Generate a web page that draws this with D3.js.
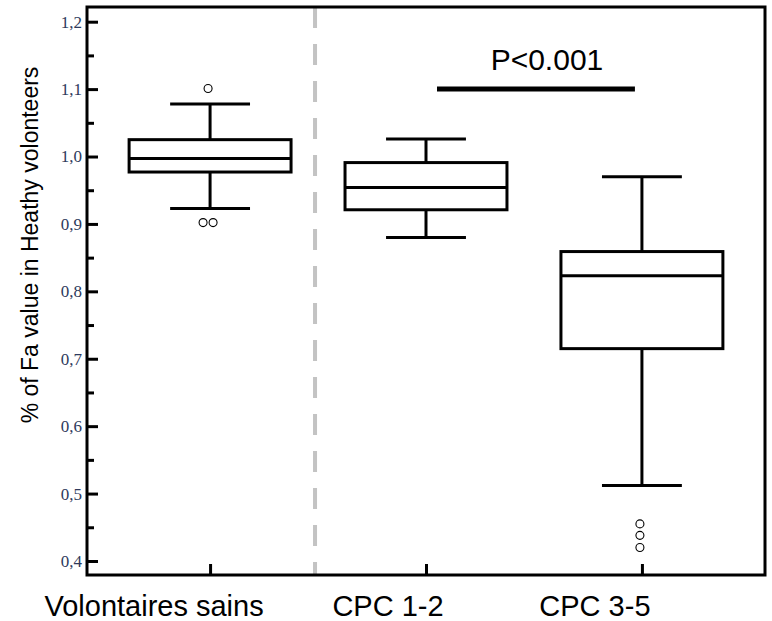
<!DOCTYPE html>
<html>
<head>
<meta charset="utf-8">
<script src="https://cdn.jsdelivr.net/npm/d3@7"></script>
<style>
  html, body { margin: 0; padding: 0; background: #fff; }
  svg { display: block; }
</style>
</head>
<body>
<svg id="chart" width="772" height="621"></svg>
<script>
// Groups and their box-plot statistics (fraction of the healthy-volunteer mean)
const categories  = ["Volontaires sains", "CPC 1-2", "CPC 3-5"];
const whiskerLow  = [0.923, 0.880, 0.512];
const q1          = [0.977, 0.921, 0.715];
const median      = [0.997, 0.954, 0.823];
const q3          = [1.025, 0.991, 0.859];
const whiskerHigh = [1.078, 1.026, 0.970];
const outliers    = [[1.101, 0.902, 0.902], [], [0.455, 0.438, 0.420]];

// Axis ticks
const majorTicks = [0.4, 0.5, 0.6, 0.7, 0.8, 0.9, 1.0, 1.1, 1.2];
const minorTicks = [0.45, 0.55, 0.65, 0.75, 0.85, 0.95, 1.05, 1.15];

// Significance annotation between the two CPC groups
const sigLabel = "P<0.001";
const sigValue = 1.1;

const yTitle = "% of Fa value in Heathy volonteers";

// ---- layout ----
const plot = { left: 87, right: 765, top: 7, bottom: 575 };
const svg = d3.select("#chart");

const x = d3.scalePoint()
  .domain(categories)
  .range([plot.left, plot.right])
  .padding(0.57);

const y = d3.scaleLinear()
  .domain([0.3792, 1.2218])
  .range([plot.bottom, plot.top]);

const step = x.step();
const boxHalf = step * 0.375;
const capHalf = step * 0.185;
const labelShift = [-56, -38, -47];

// Dashed separator between healthy volunteers and patients
svg.append("line")
  .attr("x1", (x(categories[0]) + x(categories[1])) / 2 - 3)
  .attr("x2", (x(categories[0]) + x(categories[1])) / 2 - 3)
  .attr("y1", plot.top)
  .attr("y2", plot.bottom)
  .attr("stroke", "#c3c3c3")
  .attr("stroke-width", 4)
  .attr("stroke-dasharray", "21,16");

// Y axis: major ticks with labels, pointing inward
const yAxis = svg.append("g")
  .attr("transform", `translate(${plot.left},0)`)
  .call(d3.axisLeft(y)
    .tickValues(majorTicks)
    .tickSizeInner(-11)
    .tickSizeOuter(0)
    .tickPadding(5)
    .tickFormat(d => d3.format(".1f")(d).replace(".", ",")));
yAxis.attr("font-family", "Liberation Serif").attr("font-size", 17);
yAxis.select(".domain").remove();
yAxis.selectAll(".tick line").attr("stroke", "#000").attr("stroke-width", 3);
yAxis.selectAll(".tick text")
  .attr("fill", "#2e3a5c")
  .attr("font-family", "Liberation Serif")
  .attr("font-size", 17);

// Y axis minor ticks
const yMinor = svg.append("g")
  .attr("transform", `translate(${plot.left},0)`)
  .call(d3.axisLeft(y)
    .tickValues(minorTicks)
    .tickSizeInner(-7)
    .tickSizeOuter(0)
    .tickFormat(""));
yMinor.select(".domain").remove();
yMinor.selectAll(".tick line").attr("stroke", "#000").attr("stroke-width", 3);

// X axis ticks pointing inward
const xAxis = svg.append("g")
  .attr("transform", `translate(0,${plot.bottom})`)
  .call(d3.axisBottom(x).tickSizeInner(-11).tickSizeOuter(0).tickFormat(""));
xAxis.select(".domain").remove();
xAxis.selectAll(".tick line").attr("stroke", "#000").attr("stroke-width", 3);

// Category labels
svg.append("g").selectAll("text")
  .data(categories)
  .join("text")
  .attr("x", (d, i) => x(d) + labelShift[i])
  .attr("y", 616)
  .attr("text-anchor", "middle")
  .style("font-family", "Arial, 'Liberation Sans', sans-serif")
  .style("font-size", "29px")
  .attr("fill", "#000")
  .text(d => d);

// Frame
svg.append("rect")
  .attr("x", plot.left)
  .attr("y", plot.top)
  .attr("width", plot.right - plot.left)
  .attr("height", plot.bottom - plot.top)
  .attr("fill", "none")
  .attr("stroke", "#000")
  .attr("stroke-width", 3);

// Box plots
const groups = svg.append("g").selectAll("g")
  .data(categories.map((c, i) => ({
    c, i, lo: whiskerLow[i], q1: q1[i], med: median[i], q3: q3[i], hi: whiskerHigh[i], out: outliers[i]
  })))
  .join("g")
  .attr("stroke", "#000")
  .attr("stroke-width", 3)
  .attr("fill", "none");

// whisker stems
groups.append("line")
  .attr("x1", d => x(d.c)).attr("x2", d => x(d.c))
  .attr("y1", d => y(d.hi)).attr("y2", d => y(d.q3));
groups.append("line")
  .attr("x1", d => x(d.c)).attr("x2", d => x(d.c))
  .attr("y1", d => y(d.q1)).attr("y2", d => y(d.lo));
// whisker caps
groups.append("line")
  .attr("x1", d => x(d.c) - capHalf).attr("x2", d => x(d.c) + capHalf)
  .attr("y1", d => y(d.hi)).attr("y2", d => y(d.hi));
groups.append("line")
  .attr("x1", d => x(d.c) - capHalf).attr("x2", d => x(d.c) + capHalf)
  .attr("y1", d => y(d.lo)).attr("y2", d => y(d.lo));
// box
groups.append("rect")
  .attr("x", d => x(d.c) - boxHalf)
  .attr("width", boxHalf * 2)
  .attr("y", d => y(d.q3))
  .attr("height", d => y(d.q1) - y(d.q3))
  .attr("fill", "#fff");
// median
groups.append("line")
  .attr("x1", d => x(d.c) - boxHalf).attr("x2", d => x(d.c) + boxHalf)
  .attr("y1", d => y(d.med)).attr("y2", d => y(d.med));

// outliers: repeated values are spread side by side
groups.each(function(d) {
  const counts = {};
  const pts = d.out.map(v => {
    const k = v.toFixed(3);
    counts[k] = (counts[k] || 0) + 1;
    return { v, k, n: counts[k] - 1 };
  });
  pts.forEach(p => { p.total = counts[p.k]; });
  d3.select(this).selectAll("circle")
    .data(pts)
    .join("circle")
    .attr("cx", p => x(d.c) - 2 + (p.n - (p.total - 1) / 2) * 10)
    .attr("cy", p => y(p.v))
    .attr("r", 4)
    .attr("stroke-width", 1.1)
    .attr("fill", "#fff");
});

// Significance bar and label
const sx1 = x(categories[1]) + 11;
const sx2 = x(categories[2]) - 7;
svg.append("line")
  .attr("x1", sx1).attr("x2", sx2)
  .attr("y1", y(sigValue)).attr("y2", y(sigValue))
  .attr("stroke", "#000")
  .attr("stroke-width", 5);
svg.append("text")
  .attr("x", (sx1 + sx2) / 2 + 11)
  .attr("y", 70)
  .attr("text-anchor", "middle")
  .style("font-family", "Arial, 'Liberation Sans', sans-serif")
  .style("font-size", "30px")
  .attr("fill", "#000")
  .text(sigLabel);

// Y axis title
svg.append("text")
  .attr("transform", "translate(38,245) rotate(-90)")
  .attr("text-anchor", "middle")
  .style("font-family", "Arial, 'Liberation Sans', sans-serif")
  .style("font-size", "23px")
  .attr("fill", "#000")
  .text(yTitle);
</script>
</body>
</html>
